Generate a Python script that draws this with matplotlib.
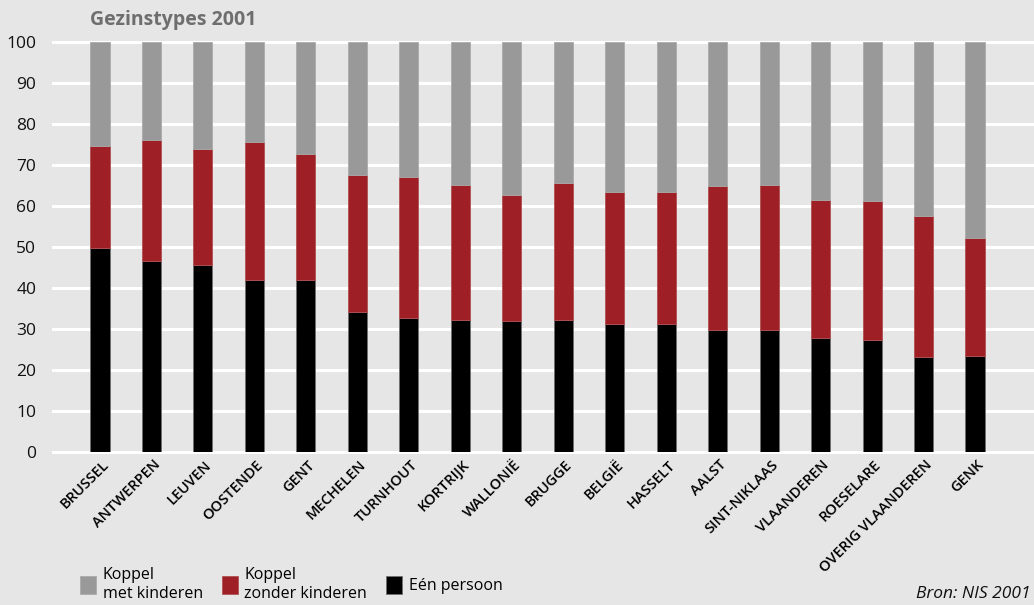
import numpy as np
import matplotlib.pyplot as plt

plt.rcParams['font.family'] = ['Open Sans', 'DejaVu Sans']

# gezinstypes per stad/regio (percent)
steden = ['BRUSSEL', 'ANTWERPEN', 'LEUVEN', 'OOSTENDE', 'GENT', 'MECHELEN',
          'TURNHOUT', 'KORTRIJK', 'WALLONIË', 'BRUGGE', 'BELGIË', 'HASSELT',
          'AALST', 'SINT-NIKLAAS', 'VLAANDEREN', 'ROESELARE',
          'OVERIG VLAANDEREN', 'GENK']
een_persoon = [49.7, 46.6, 45.7, 42.0, 42.0, 34.1, 32.8, 32.1, 32.0, 32.3,
               31.1, 31.1, 29.8, 29.8, 27.7, 27.2, 23.2, 23.5]
zonder_kinderen = [24.9, 29.4, 28.2, 33.7, 30.6, 33.4, 34.3, 33.0, 30.6, 33.4,
                   32.4, 32.4, 35.1, 35.3, 33.8, 34.0, 34.3, 28.6]
met_kinderen = [100 - a - b for a, b in zip(een_persoon, zonder_kinderen)]

bg = '#e6e6e6'
c_grijs = '#999999'
c_rood = '#9e2026'
c_zwart = '#000000'

fig = plt.figure(figsize=(10.34, 6.05), dpi=100, facecolor=bg)
ax = fig.add_axes([53 / 1034, 153 / 605, 981 / 1034, 410 / 605])
ax.set_facecolor(bg)

x = np.arange(len(steden))
w = 0.37
b1 = ax.bar(x, een_persoon, w, color=c_zwart, edgecolor='#707070', linewidth=0.6, zorder=3)
b2 = ax.bar(x, zonder_kinderen, w, bottom=een_persoon, color=c_rood,
            edgecolor='#b05050', linewidth=0.6, zorder=3)
bottom3 = [a + b for a, b in zip(een_persoon, zonder_kinderen)]
b3 = ax.bar(x, met_kinderen, w, bottom=bottom3, color=c_grijs,
            edgecolor='#aaaaaa', linewidth=0.6, zorder=3)

ax.set_xlim(-0.913, len(steden) - 1 + 1.146)
ax.set_ylim(0, 100)
ax.set_yticks(range(0, 101, 10))
for y in range(0, 101, 10):
    ax.axhline(y, color='white', linewidth=2.2, zorder=1, clip_on=False)
for s in ax.spines.values():
    s.set_visible(False)
ax.tick_params(axis='y', length=0, pad=12, labelsize=12.5, labelcolor='#111111')
ax.tick_params(axis='x', length=0, pad=4)
ax.set_xticks(x + 0.03)
ax.set_xticklabels(steden, rotation=45, ha='right', va='top',
                   rotation_mode='anchor', fontsize=10.5, fontweight='semibold')

fig.text(90 / 1034, 1 - 20 / 605, 'Gezinstypes 2001', fontsize=14,
         fontweight='bold', color='#6e6e6e', va='center', ha='left')

ax.legend([b3, b2, b1], ['Koppel\nmet kinderen', 'Koppel\nzonder kinderen', 'Eén persoon'],
          ncol=3, frameon=False, loc='lower left',
          bbox_to_anchor=(66 / 1034, -11 / 605), bbox_transform=fig.transFigure,
          fontsize=11.5, handlelength=1.0, handleheight=1.3, handletextpad=0.4,
          columnspacing=1.2, labelspacing=0.05)

fig.text(1031 / 1034, 1 - 598 / 605, 'Bron: NIS 2001', fontsize=12.5,
         style='italic', ha='right', va='baseline', color='#111111')

fig.savefig('out.png', dpi=100, facecolor=bg)
